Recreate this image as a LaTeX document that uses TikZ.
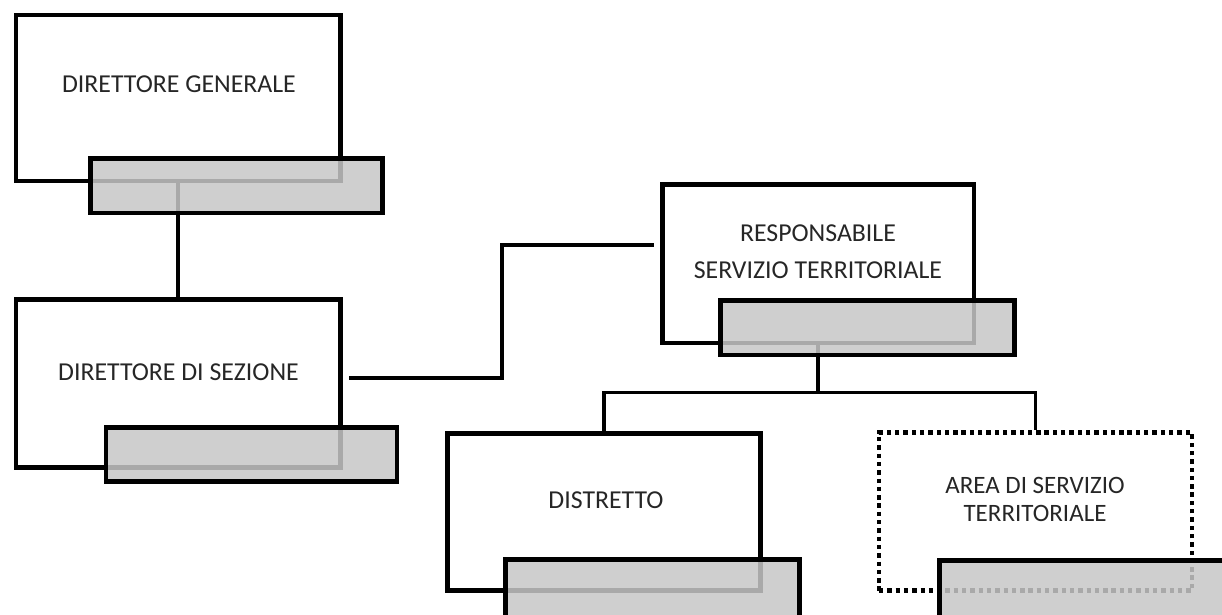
\documentclass[tikz,border=0pt]{standalone}
\usepackage{fontspec}
\setmainfont{Carlito}
\begin{document}
\begin{tikzpicture}[x=1pt,y=-1pt,
  unitbox/.style={draw=black,line width=4.6pt,inner sep=0pt,line join=miter},
  dotbox/.style={draw=black,line width=4.8pt,inner sep=0pt,dash pattern=on 4.4pt off 3.9pt},
  bar/.style={draw=black,line width=4.6pt,inner sep=0pt,fill=black!22,fill opacity=0.85,draw opacity=1},
  link/.style={draw=black,line width=3.9pt,line join=miter},
  lbl/.style={inner sep=0pt,text=black!85,font=\fontsize{25.8}{31}\selectfont}]
\useasboundingbox (0,0) rectangle (1222,614);
\clip (0,0) rectangle (1222,614);
% boxes
\node[unitbox,minimum width=324.5pt,minimum height=166pt] (dg) at (178.25,98) {};
\node[unitbox,minimum width=324.5pt,minimum height=168pt] (ds) at (178.25,383.5) {};
\node[unitbox,minimum width=311.5pt,minimum height=158.5pt] (rst) at (818.25,263.75) {};
\node[unitbox,minimum width=313pt,minimum height=157pt] (dis) at (604,512) {};
\node[dotbox,minimum width=313pt,minimum height=158pt] (ast) at (1035.5,511.5) {};
% connectors
\coordinate (j1) at (502.3,377.7);
\coordinate (j2) at (502.3,245);
\coordinate (k) at (818.25,392.5);
\draw[link] (dg.south) -- (ds.north);
\draw[link,shorten <=6.5pt,shorten >=6.5pt] (ds.east |- j1) -- (j1) -- (j2) -- (rst.west |- j2);
\draw[link] (rst.south) -- (k);
\draw[link] (dis.north) |- (k) -| (ast.north);
% bars
\node[bar,minimum width=292pt,minimum height=54.5pt] (b1) at (236.6,185.8) {};
\node[bar,minimum width=291pt,minimum height=54pt] (b2) at (251.4,454.5) {};
\node[bar,minimum width=294pt,minimum height=54.5pt] (b3) at (867.5,327.75) {};
\node[bar,minimum width=294pt,minimum height=60pt] (b4) at (652.5,589.5) {};
\node[bar,minimum width=294pt,minimum height=60pt] (b5) at (1086.5,590.5) {};
% labels
\node[lbl] (tdg) at (179,84) {DIRETTORE GENERALE};
\node[lbl] (tds) at (178.5,372.5) {DIRETTORE DI SEZIONE};
\node[lbl,align=center,font=\fontsize{25.8}{37.5}\selectfont] (trst) at (818,251.5) {RESPONSABILE\\SERVIZIO TERRITORIALE};
\node[lbl] (tdis) at (606,500) {DISTRETTO};
\node[lbl,align=center,font=\fontsize{25}{28}\selectfont] (tast) at (1035,499.5) {AREA DI SERVIZIO\\TERRITORIALE};
\end{tikzpicture}
\end{document}
